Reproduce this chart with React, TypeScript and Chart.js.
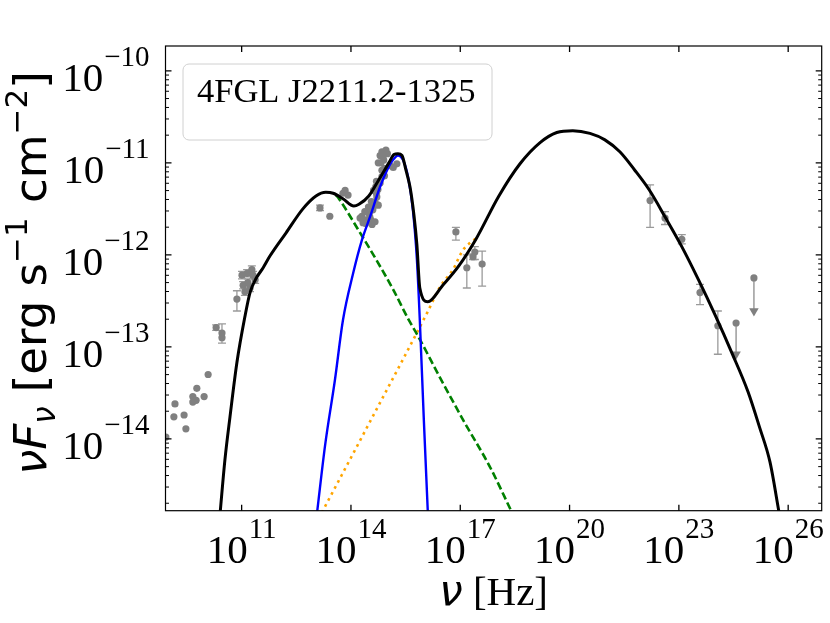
import { useEffect, useRef } from 'react';
import { Chart, registerables } from 'chart.js';

Chart.register(...registerables);

// all values are log10: nu in Hz, nuFnu in erg s^-1 cm^-2
const totalNu = [10.41, 10.54, 10.68, 10.87, 11.09, 11.23, 11.39, 11.59, 11.78, 12.22, 12.68, 13.04, 13.31, 13.51, 13.78, 14.08, 14.22, 14.49, 14.77, 15.04, 15.18, 15.29, 15.40, 15.51, 15.62, 15.73, 15.81, 15.89, 16.11, 16.50, 16.96, 17.43, 18.06, 18.64, 19.19, 19.65, 20.09, 20.56, 20.97, 21.38, 21.79, 22.18, 22.64, 23.08, 23.55, 23.99, 24.46, 24.90, 25.22, 25.50, 25.75];
const totalFlux = [-14.8, -14.23, -13.76, -13.17, -12.67, -12.41, -12.26, -12.14, -12.01, -11.76, -11.50, -11.36, -11.32, -11.33, -11.39, -11.47, -11.45, -11.36, -11.18, -11.00, -10.91, -10.90, -10.92, -11.08, -11.26, -11.57, -11.89, -12.36, -12.51, -12.34, -12.12, -11.83, -11.36, -11.01, -10.78, -10.67, -10.65, -10.68, -10.75, -10.88, -11.08, -11.29, -11.60, -11.91, -12.28, -12.65, -13.07, -13.49, -13.88, -14.25, -14.8];

const syncNu = [13.59, 13.67, 14.22, 14.69, 15.15, 15.59, 15.81, 16.44, 17.13, 17.81, 18.42];
const syncFlux = [-11.35, -11.39, -11.74, -12.05, -12.37, -12.71, -12.86, -13.33, -13.83, -14.30, -14.8];

const diskNu = [13.07, 13.29, 13.56, 13.78, 14.06, 14.30, 14.52, 14.80, 14.99, 15.15, 15.29, 15.43, 15.57, 15.70, 15.81, 15.89, 16.00, 16.11];
const diskFlux = [-14.8, -14.07, -13.36, -12.71, -12.20, -11.84, -11.59, -11.26, -11.08, -10.97, -10.92, -10.97, -11.16, -11.51, -12.05, -12.71, -13.79, -14.8];

const sscNu = [13.20, 14.66, 16.09, 16.44, 16.80, 17.07, 17.43];
const sscFlux = [-14.8, -13.71, -12.63, -12.35, -12.16, -11.95, -11.82];

const sedNu = [8.92, 9.47, 9.14, 9.42, 9.17, 9.66, 9.66, 9.75, 9.97, 9.77, 10.08, 10.30, 10.46, 10.46, 10.87,
  11.01, 11.15, 11.31, 11.04, 11.17, 11.23, 11.37, 11.09, 11.28,
  13.15, 13.42, 13.78, 13.92, 13.84,
  16.88, 17.40, 17.35, 17.18, 17.60,
  22.21, 22.62, 23.08, 23.58, 24.07];
const sedFlux = [-13.98, -13.89, -13.76, -13.74, -13.62, -13.60, -13.54, -13.58, -13.54, -13.45, -13.30, -12.79, -12.85, -12.90, -12.48,
  -12.22, -12.20, -12.22, -12.33, -12.30, -12.36, -12.27, -12.40, -12.16,
  -11.49, -11.58, -11.33, -11.35, -11.30,
  -11.75, -11.97, -12.02, -12.14, -12.10,
  -11.41, -11.60, -11.83, -12.41, -12.77];
const sedLo = [null, null, null, null, null, null, null, null, null, null, null, -12.82, -12.96, null, -12.61,
  -12.26, -12.24, -12.26, -12.37, -12.34, -12.40, -12.31, -12.44, -12.20,
  -11.52, null, null, null, null,
  -11.84, -12.05, -12.05, -12.36, -12.34,
  -11.70, -11.67, -11.88, -12.54, -13.08];
const sedHi = [null, null, null, null, null, null, null, null, null, null, null, -12.76, -12.75, null, -12.39,
  -12.18, -12.16, -12.18, -12.29, -12.26, -12.32, -12.23, -12.36, -12.12,
  -11.46, null, null, null, null,
  -11.70, -11.91, -11.99, -12.00, -11.96,
  -11.24, -11.53, -11.78, -12.32, -12.61];

// dense optical / UV band
const uvoNu = [14.85, 14.96, 14.88, 14.82, 15.07, 15.26, 14.85, 14.85, 14.80, 14.74, 14.71, 14.66, 14.60, 14.52, 14.44, 14.33, 14.66, 14.58, 14.25, 14.38, 14.50, 14.70, 14.62, 14.90, 14.40,
  14.75, 14.92, 14.70, 14.62, 14.56, 14.48, 14.75, 14.30, 14.80, 15.00, 14.92, 15.16, 14.68, 14.54];
const uvoFlux = [-10.88, -10.86, -10.93, -11.00, -11.03, -11.01, -11.08, -11.15, -11.22, -11.29, -11.37, -11.43, -11.51, -11.59, -11.62, -11.65, -11.64, -11.67, -11.60, -11.53, -11.55, -11.33, -11.47, -10.97, -11.66,
  -11.00, -11.06, -11.20, -11.30, -11.42, -11.48, -11.46, -11.58, -10.92, -10.90, -11.14, -11.05, -11.26, -11.62];

const ulNu = [24.57, 25.06];
const ulFlux = [-12.74, -12.25];
const ulTo = [-13.08, -12.61];

const xTickExps = [11, 14, 17, 20, 23, 26];
const yTickExps = [-10, -11, -12, -13, -14];
const xRange = [8.91, 26.92];
const yRange = [-14.78, -9.73];

const serif = '"Liberation Serif", "DejaVu Serif", serif';
const sans = '"DejaVu Sans", sans-serif';
const gray = '#808080';

const L = (v: number) => Math.pow(10, v);
const pts = (xs: number[], ys: number[]) => xs.map((v, i) => ({ x: L(v), y: L(ys[i]) }));

const errorBars = {
  id: 'errorBars',
  beforeDatasetsDraw(chart: any) {
    const { ctx, chartArea: a, scales } = chart;
    const xs = scales.x, ys = scales.y;
    ctx.save();
    ctx.beginPath();
    ctx.rect(a.left, a.top, a.right - a.left, a.bottom - a.top);
    ctx.clip();
    ctx.strokeStyle = '#9a9a9a';
    ctx.lineWidth = 1.3;
    sedNu.forEach((nu, i) => {
      const lo = sedLo[i], hi = sedHi[i];
      if (lo == null || hi == null) return;
      const px = xs.getPixelForValue(L(nu));
      const p1 = ys.getPixelForValue(L(lo));
      const p2 = ys.getPixelForValue(L(hi));
      ctx.beginPath();
      ctx.moveTo(px, p1); ctx.lineTo(px, p2);
      ctx.moveTo(px - 4, p1); ctx.lineTo(px + 4, p1);
      ctx.moveTo(px - 4, p2); ctx.lineTo(px + 4, p2);
      ctx.stroke();
    });
    ctx.strokeStyle = '#8c8c8c';
    ulNu.forEach((nu, i) => {
      const px = xs.getPixelForValue(L(nu));
      ctx.beginPath();
      ctx.moveTo(px, ys.getPixelForValue(L(ulFlux[i])));
      ctx.lineTo(px, ys.getPixelForValue(L(ulTo[i])));
      ctx.stroke();
    });
    ctx.restore();
  },
};

function powLabel(ctx: any, exp: number, x: number, base: number, raise: number, align: 'center' | 'right') {
  const big = `41px ${serif}`;
  const small = `29px ${serif}`;
  const e = exp < 0 ? '\u2212' + Math.abs(exp) : String(exp);
  ctx.font = big;
  const w10 = ctx.measureText('10').width;
  ctx.font = small;
  const we = ctx.measureText(e).width;
  const w = w10 + 1 + we;
  const x0 = align === 'center' ? x - w / 2 : x - w;
  ctx.textAlign = 'left';
  ctx.textBaseline = 'alphabetic';
  ctx.font = big;
  ctx.fillText('10', x0, base);
  ctx.font = small;
  ctx.fillText(e, x0 + w10 + 1, base - raise);
}

const frame = {
  id: 'frame',
  afterDraw(chart: any) {
    const { ctx, chartArea: a, scales } = chart;
    const xs = scales.x, ys = scales.y;
    ctx.save();
    ctx.strokeStyle = '#000';
    ctx.fillStyle = '#000';

    // inward ticks on all four sides
    ctx.lineWidth = 1.3;
    ctx.beginPath();
    xTickExps.forEach((e) => {
      const px = xs.getPixelForValue(L(e));
      ctx.moveTo(px, a.bottom); ctx.lineTo(px, a.bottom - 6);
      ctx.moveTo(px, a.top); ctx.lineTo(px, a.top + 6);
    });
    yTickExps.forEach((e) => {
      const py = ys.getPixelForValue(L(e));
      ctx.moveTo(a.left, py); ctx.lineTo(a.left + 6, py);
      ctx.moveTo(a.right, py); ctx.lineTo(a.right - 6, py);
    });
    ctx.stroke();
    ctx.lineWidth = 1;
    ctx.beginPath();
    for (let d = -15; d <= -10; d++) {
      for (let m = 2; m <= 9; m++) {
        const lv = d + Math.log10(m);
        if (lv < yRange[0] || lv > yRange[1]) continue;
        const py = ys.getPixelForValue(L(lv));
        ctx.moveTo(a.left, py); ctx.lineTo(a.left + 3.5, py);
        ctx.moveTo(a.right, py); ctx.lineTo(a.right - 3.5, py);
      }
    }
    ctx.stroke();

    // spines
    ctx.lineWidth = 1.2;
    ctx.strokeRect(a.left, a.top, a.right - a.left, a.bottom - a.top);

    // tick labels
    xTickExps.forEach((e) => powLabel(ctx, e, xs.getPixelForValue(L(e)), 563, 25, 'center'));
    yTickExps.forEach((e) => {
      const py = ys.getPixelForValue(L(e));
      powLabel(ctx, e, a.left - 16, py + 20, 25, 'right');
    });

    // x title
    const cx = (a.left + a.right) / 2;
    ctx.font = `italic 42px ${sans}`;
    const wn = ctx.measureText('\u03bd').width;
    ctx.font = `41px ${serif}`;
    const wh = ctx.measureText(' [Hz]').width;
    const x0 = cx - (wn + wh) / 2;
    ctx.textAlign = 'left';
    ctx.font = `italic 42px ${sans}`;
    ctx.fillText('\u03bd', x0, 605);
    ctx.font = `41px ${serif}`;
    ctx.fillText(' [Hz]', x0 + wn, 605);

    // y title, rotated
    const segs = [
      { t: '\u03bd', f: `italic 45px ${sans}`, dy: 0 },
      { t: 'F', f: `italic 45px ${sans}`, dy: 0 },
      { t: '\u03bd', f: `italic 31px ${sans}`, dy: 9 },
      { t: ' [erg s', f: `45px ${sans}`, dy: 0 },
      { t: '\u22121', f: `31px ${sans}`, dy: -19 },
      { t: ' cm', f: `45px ${sans}`, dy: 0 },
      { t: '\u22122', f: `31px ${sans}`, dy: -19 },
      { t: ']', f: `45px ${sans}`, dy: 0 },
    ];
    let total = 0;
    const widths = segs.map((s) => {
      ctx.font = s.f;
      const w = ctx.measureText(s.t).width;
      total += w;
      return w;
    });
    ctx.save();
    ctx.translate(46, 273);
    ctx.rotate(-Math.PI / 2);
    let sx = -total / 2;
    segs.forEach((s, i) => {
      ctx.font = s.f;
      ctx.fillText(s.t, sx, s.dy);
      sx += widths[i];
    });
    ctx.restore();

    // legend box
    ctx.beginPath();
    ctx.roundRect(183, 64, 309, 76, 6);
    ctx.fillStyle = 'rgba(255,255,255,0.8)';
    ctx.fill();
    ctx.strokeStyle = '#d0d0d0';
    ctx.lineWidth = 1;
    ctx.stroke();
    ctx.fillStyle = '#000';
    ctx.font = `34.5px ${serif}`;
    ctx.fillText('4FGL J2211.2-1325', 197, 102);
    ctx.restore();
  },
};

export default function App() {
  const canvasRef = useRef<HTMLCanvasElement | null>(null);
  const chartRef = useRef<Chart | null>(null);

  useEffect(() => {
    if (!canvasRef.current) return;
    if (chartRef.current) chartRef.current.destroy();

    const line = (data: any, color: string, width: number, dash: number[] = []) => ({
      data,
      showLine: true,
      borderColor: color,
      borderWidth: width,
      borderDash: dash,
      cubicInterpolationMode: 'monotone',
      pointRadius: 0,
      fill: false,
    });
    const dots = (data: any) => ({
      data,
      pointRadius: 3.6,
      backgroundColor: gray,
      borderWidth: 0,
    });

    chartRef.current = new Chart(canvasRef.current, {
      type: 'scatter',
      data: {
        datasets: [
          line(pts(totalNu, totalFlux), '#000000', 3),
          line(pts(diskNu, diskFlux), '#0000ff', 2.4),
          line(pts(syncNu, syncFlux), '#008000', 2.6, [7.6, 3.4]),
          line(pts(sscNu, sscFlux), '#ffa500', 2.6, [2.6, 4.2]),
          dots(pts(sedNu, sedFlux)),
          dots(pts(uvoNu, uvoFlux)),
          dots(pts(ulNu, ulFlux)),
          {
            data: pts(ulNu, ulTo),
            pointStyle: 'triangle',
            rotation: 180,
            pointRadius: 5.5,
            backgroundColor: gray,
            borderWidth: 0,
          },
        ] as any,
      },
      options: {
        animation: false,
        responsive: true,
        maintainAspectRatio: false,
        layout: { padding: { left: 165.5, right: 8.3, top: 46, bottom: 112.3 } },
        scales: {
          x: { type: 'logarithmic', min: L(xRange[0]), max: L(xRange[1]), display: false },
          y: { type: 'logarithmic', min: L(yRange[0]), max: L(yRange[1]), display: false },
        },
        plugins: {
          legend: { display: false },
          tooltip: { enabled: false },
        },
      },
      plugins: [errorBars, frame],
    });

    return () => {
      if (chartRef.current) {
        chartRef.current.destroy();
        chartRef.current = null;
      }
    };
  }, []);

  return (
    <div style={{ position: 'absolute', left: 0, top: 0, width: 830, height: 623, background: '#fff' }}>
      <canvas ref={canvasRef} />
    </div>
  );
}
